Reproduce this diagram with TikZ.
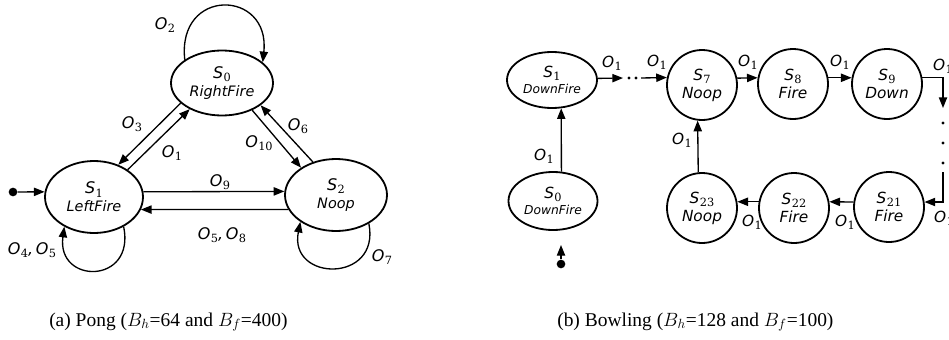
\documentclass[tikz,border=0pt]{standalone}
\usepackage{fontspec}
\setmainfont{Liberation Serif}
\newfontfamily\lblfont{DejaVu Sans}
\newfontfamily\subfont{DejaVu Serif}
\usetikzlibrary{arrows.meta,shapes.geometric}
% symbol with a lowered serif index, e.g. S_0, O_1
\newcommand\sy[2]{{\lblfont\itshape #1}\kern0.3pt\raisebox{-0.45ex}{\subfont\fontsize{8.5}{9}\selectfont #2}}
\newcommand\act[1]{{\lblfont\itshape #1}}
\begin{document}
\begin{tikzpicture}[x=0.75pt,y=-0.75pt,
  stbig/.style={draw, ellipse, line width=1.35pt, inner sep=0pt, align=center,
                font=\fontsize{12}{13.5}\selectfont},
  stsmall/.style={draw, ellipse, line width=1.35pt, inner sep=0pt, align=center,
                font=\fontsize{11.5}{12.5}\selectfont},
  circ/.style={draw, circle, line width=1.35pt, minimum size=52.5pt, inner sep=0pt,
               align=center, font=\fontsize{11.5}{13.5}\selectfont},
  arr/.style={-{Triangle[length=8pt,width=6.2pt]}, line width=1pt},
  labP/.style={inner sep=0pt, font=\fontsize{12}{13}\selectfont},
  labB/.style={inner sep=0pt, font=\fontsize{11.5}{13}\selectfont},
  startdot/.style={circle, fill, inner sep=0pt, minimum size=6.5pt},
  smalldot/.style={circle, fill, inner sep=0pt, minimum size=2.6pt},
  captext/.style={inner sep=0pt, anchor=west, font=\fontsize{14.6}{16}\selectfont}]
\useasboundingbox (0,0) rectangle (949,339);
\clip (0,0) rectangle (949,339);

% ---------------- Pong ----------------
\node[stbig, minimum width=76.5pt, minimum height=48.75pt] (p0) at (222,83)
  {\sy{S}{0}\\{\fontsize{10.8}{12}\selectfont\act{RightFire}}};
\node[stbig, minimum width=73.5pt, minimum height=54pt] (p1) at (94,197)
  {\sy{S}{1}\\{\fontsize{10.8}{12}\selectfont\act{LeftFire}}};
\node[stbig, minimum width=76.5pt, minimum height=54pt] (p2) at (336,195)
  {\sy{S}{2}\\{\fontsize{10.8}{12}\selectfont\act{Noop}}};
\node[startdot] (pin) at (13,192) {};

\draw[arr] (pin) -- (p1.174);
\draw[arr] (p1.6) -- (p2.176);
\draw[arr] (p2.197) -- (p1.-15);
\draw[arr] (p0.206) -- (p1.53);
\draw[arr] (p1.39) -- (p0.219);
\draw[arr] (p0.318) -- (p2.142);
\draw[arr] (p2.125) -- (p0.330);
\draw[arr] (p0.148) .. controls +(-8,-73) and +(8,-73) .. (p0.27);
\draw[arr] (p1.-45) .. controls +(12,58) and +(-8,58) .. (p1.225);
\draw[arr] (p2.319) .. controls +(12,60) and +(-12,60) .. (p2.217);

\node[labP] (o2)  at (165,25)  {\sy{O}{2}};
\node[labP] (o3)  at (132,124) {\sy{O}{3}};
\node[labP] (o1)  at (172,153) {\sy{O}{1}};
\node[labP] (o10) at (259,143) {\sy{O}{10}};
\node[labP] (o6)  at (298,126) {\sy{O}{6}};
\node[labP] (o9)  at (220,182) {\sy{O}{9}};
\node[labP] (o58) at (222,235) {\sy{O}{5}\act{,\,}\sy{O}{8}};
\node[labP] (o45) at (32,250)  {\sy{O}{4}\act{,\,}\sy{O}{5}};
\node[labP] (o7)  at (382,257) {\sy{O}{7}};

% ---------------- Bowling ----------------
\node[stsmall, minimum width=67.5pt, minimum height=42pt] (b1) at (552,80)
  {\sy{S}{1}\\{\lblfont\itshape\fontsize{9.2}{10}\selectfont DownFire}};
\node[stsmall, minimum width=66.75pt, minimum height=43.5pt] (b0) at (553,201)
  {\sy{S}{0}\\{\lblfont\itshape\fontsize{9.2}{10}\selectfont DownFire}};
\node[circ] (b7)  at (702,85)  {\sy{S}{7}\\\act{Noop}};
\node[circ] (b8)  at (793,84)  {\sy{S}{8}\\\act{Fire}};
\node[circ] (b9)  at (887,84)  {\sy{S}{9}\\\act{Down}};
\node[circ] (b23) at (702,208) {\sy{S}{23}\\\act{Noop}};
\node[circ] (b22) at (794,208) {\sy{S}{22}\\\act{Fire}};
\node[circ] (b21) at (889,207) {\sy{S}{21}\\\act{Fire}};
\node[startdot] (bin) at (561,264) {};
\coordinate (bintip) at (561,245);

% elided chain between S1 and S7
\coordinate (g1) at (623,78);
\coordinate (g2) at (641,78);
\node[smalldot] (gd1) at (629,78) {};
\node[smalldot] (gd2) at (636,78) {};
% elided chain between S9 and S21
\coordinate (e1) at (943,108);
\coordinate (e2) at (943,172);
\node[smalldot] (vd1) at (943,123) {};
\node[smalldot] (vd2) at (943,143) {};
\node[smalldot] (vd3) at (943,163) {};

\draw[arr] (bin) -- (bintip);
\draw[arr] (b0.74) -- (b1.-72);
\draw[arr] (b1.2) -- (g1);
\draw[arr] (g2) -- (b7.168.5);
\draw[arr] (b7.11.5) -- (b8.170);
\draw[arr] (b8.10) -- (b9.170);
\draw[arr] (b9.10) -| (e1);
\draw[arr] (e2) |- (b21.8);
\draw[arr] (b21.172) -- (b22.10);
\draw[arr] (b22.170) -- (b23.10);
\draw[arr] (b23.96.6) -- (b7.263.4);

\node[labB] (q1) at (612,63)  {\sy{O}{1}};
\node[labB] (q2) at (657,62)  {\sy{O}{1}};
\node[labB] (q3) at (748,62)  {\sy{O}{1}};
\node[labB] (q4) at (840,62)  {\sy{O}{1}};
\node[labB] (q5) at (943,66)  {\sy{O}{1}};
\node[labB] (q6) at (944,218) {\sy{O}{1}};
\node[labB] (q7) at (845,222) {\sy{O}{1}};
\node[labB] (q8) at (752,222) {\sy{O}{1}};
\node[labB] (q9) at (682,140) {\sy{O}{1}};
\node[labB] (q10) at (544,156) {\sy{O}{1}};

% ---------------- captions ----------------
\node[captext] (capa) at (49,322) {(a) Pong ($B_h$=64 and $B_f$=400)};
\node[captext] (capb) at (557,322) {(b) Bowling ($B_h$=128 and $B_f$=100)};
\end{tikzpicture}
\end{document}
